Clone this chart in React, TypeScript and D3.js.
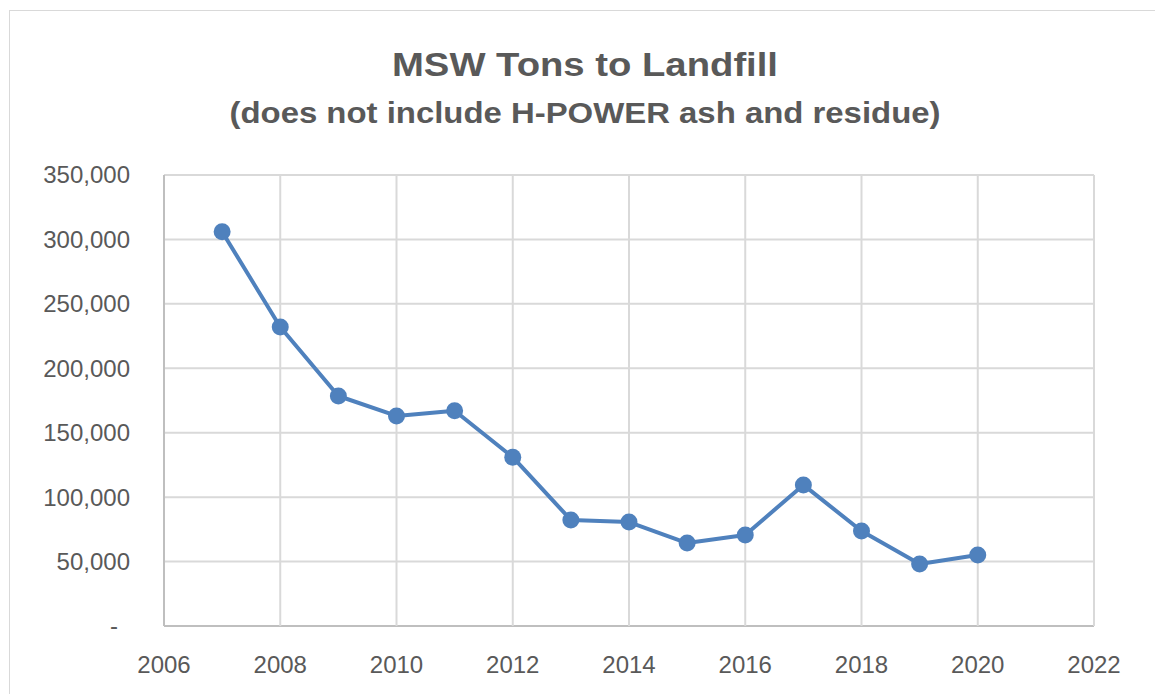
import { useEffect, useRef } from "react";
import * as d3 from "d3";

// MSW tons to landfill by year
const years = [2007, 2008, 2009, 2010, 2011, 2012, 2013, 2014, 2015, 2016, 2017, 2018, 2019, 2020];
const tons = [306000, 232000, 178500, 163000, 167000, 131000, 82300, 80700, 64400, 70600, 109500, 73700, 48100, 55100];
const xTicks = [2006, 2008, 2010, 2012, 2014, 2016, 2018, 2020, 2022];
const yTicks = [0, 50000, 100000, 150000, 200000, 250000, 300000, 350000];

const title = "MSW Tons to Landfill";
const subtitle = "(does not include H-POWER ash and residue)";

export default function App() {
    const svgRef = useRef<SVGSVGElement>(null);

    useEffect(() => {
        if (!svgRef.current) return;

        const W = 1155;
        const H = 694;
        const plot = { left: 164, right: 1094, top: 175, bottom: 626 };
        const font = "'Liberation Sans', Arial, sans-serif";
        const textColor = "#595959";
        const gridColor = "#d9d9d9";
        const lineColor = "#4f81bd";

        d3.select(svgRef.current).selectAll("*").remove();

        const svg = d3.select(svgRef.current).attr("width", W).attr("height", H);

        // chart frame
        svg.append("rect")
            .attr("x", 9.5).attr("y", 10.5)
            .attr("width", W).attr("height", H)
            .attr("fill", "#fff")
            .attr("stroke", "#d9d9d9");

        const x = d3.scaleLinear().domain([2006, 2022]).range([plot.left, plot.right]);
        const y = d3.scaleLinear().domain([0, 350000]).range([plot.bottom, plot.top]);

        // Gridlines
        svg.append("g")
            .selectAll("line")
            .data(yTicks)
            .join("line")
            .attr("x1", plot.left).attr("x2", plot.right)
            .attr("y1", (d) => y(d)).attr("y2", (d) => y(d))
            .attr("stroke", (d) => (d === 0 ? "#bfbfbf" : gridColor))
            .attr("stroke-width", 2);

        svg.append("g")
            .selectAll("line")
            .data(xTicks)
            .join("line")
            .attr("x1", (d) => x(d)).attr("x2", (d) => x(d))
            .attr("y1", plot.top).attr("y2", plot.bottom)
            .attr("stroke", (d) => (d === 2006 ? "#bfbfbf" : gridColor))
            .attr("stroke-width", 2);

        // Y labels
        svg.append("g")
            .selectAll("text")
            .data(yTicks)
            .join("text")
            .attr("x", (d) => (d === 0 ? 118 : 130))
            .attr("y", (d) => y(d))
            .attr("dy", "0.35em")
            .attr("text-anchor", "end")
            .attr("font-family", font)
            .attr("font-size", 24)
            .attr("fill", textColor)
            .text((d) => (d === 0 ? "-" : d3.format(",")(d)));

        // X labels
        svg.append("g")
            .selectAll("text")
            .data(xTicks)
            .join("text")
            .attr("x", (d) => x(d))
            .attr("y", 673)
            .attr("text-anchor", "middle")
            .attr("font-family", font)
            .attr("font-size", 24)
            .attr("fill", textColor)
            .text((d) => String(d));

        // Line
        const pts = years.map((yr, i) => ({ yr, v: tons[i] }));
        const line = d3.line<any>().x((d) => x(d.yr)).y((d) => y(d.v));

        svg.append("path")
            .datum(pts)
            .attr("fill", "none")
            .attr("stroke", lineColor)
            .attr("stroke-width", 4)
            .attr("stroke-linejoin", "round")
            .attr("d", line);

        svg.append("g")
            .selectAll("circle")
            .data(pts)
            .join("circle")
            .attr("cx", (d) => x(d.yr))
            .attr("cy", (d) => y(d.v))
            .attr("r", 8.5)
            .attr("fill", lineColor);

        // Titles
        svg.append("text")
            .attr("x", 585).attr("y", 76)
            .attr("text-anchor", "middle")
            .attr("font-family", font)
            .attr("font-weight", "bold")
            .attr("font-size", 33)
            .attr("fill", textColor)
            .attr("textLength", 386)
            .attr("lengthAdjust", "spacingAndGlyphs")
            .text(title);

        svg.append("text")
            .attr("x", 585).attr("y", 123)
            .attr("text-anchor", "middle")
            .attr("font-family", font)
            .attr("font-weight", "bold")
            .attr("font-size", 29)
            .attr("fill", textColor)
            .attr("textLength", 711)
            .attr("lengthAdjust", "spacingAndGlyphs")
            .text(subtitle);
    }, []);

    return <svg ref={svgRef} style={{ position: "absolute", left: 0, top: 0 }} />;
}
